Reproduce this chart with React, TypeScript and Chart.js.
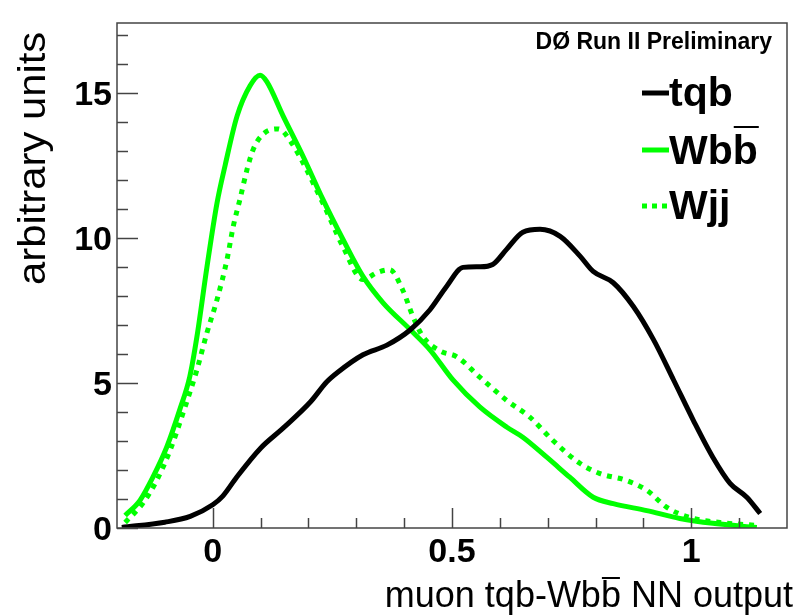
import { useEffect, useRef } from "react";
import { Chart, registerables } from "chart.js";
Chart.register(...registerables);

const tqbX = [-0.19, -0.1, -0.047, 0, 0.021, 0.05, 0.1, 0.147, 0.204, 0.238, 0.26, 0.314, 0.364, 0.413, 0.454, 0.489, 0.523, 0.558, 0.585, 0.614, 0.648, 0.684, 0.726, 0.768, 0.795, 0.837, 0.879, 0.921, 0.963, 1.004, 1.045, 1.081, 1.116, 1.144];
const tqbY = [0.02, 0.2, 0.4, 0.8, 1.1, 1.75, 2.75, 3.44, 4.34, 5.03, 5.35, 5.97, 6.3, 6.83, 7.52, 8.33, 8.98, 9.0, 9.08, 9.6, 10.19, 10.29, 10.05, 9.36, 8.84, 8.45, 7.63, 6.49, 5.1, 3.72, 2.44, 1.54, 1.06, 0.5];

const wbbX = [-0.183, -0.152, -0.125, -0.096, -0.069, -0.048, -0.033, -0.012, 0.009, 0.026, 0.051, 0.078, 0.099, 0.113, 0.147, 0.189, 0.23, 0.272, 0.314, 0.356, 0.413, 0.454, 0.502, 0.558, 0.614, 0.648, 0.698, 0.746, 0.795, 0.837, 0.907, 0.976, 1.045, 1.137];
const wbbY = [0.43, 0.95, 1.75, 2.79, 4.07, 5.21, 6.59, 9.0, 11.2, 12.5, 14.2, 15.24, 15.6, 15.38, 14.2, 12.8, 11.33, 9.95, 8.67, 7.76, 6.83, 6.14, 5.1, 4.17, 3.48, 3.13, 2.44, 1.75, 1.06, 0.84, 0.6, 0.33, 0.16, 0.02];

const wjjX = [-0.183, -0.146, -0.117, -0.089, -0.062, -0.033, -0.012, 0.009, 0.03, 0.043, 0.057, 0.072, 0.085, 0.106, 0.137, 0.162, 0.23, 0.272, 0.314, 0.343, 0.37, 0.397, 0.418, 0.439, 0.475, 0.51, 0.558, 0.614, 0.662, 0.71, 0.767, 0.808, 0.864, 0.907, 0.949, 0.997, 1.06, 1.137];
const wjjY = [0.19, 0.85, 1.64, 2.68, 3.96, 5.45, 6.73, 7.87, 9.26, 10.4, 11.33, 12.37, 13.06, 13.58, 13.75, 13.34, 11.2, 9.7, 8.56, 8.8, 8.9, 8.2, 7.3, 6.6, 6.1, 5.9, 5.2, 4.4, 3.83, 3.03, 2.23, 1.88, 1.64, 1.3, 0.71, 0.36, 0.19, 0.09];

const xMin = -0.2;
const xMax = 1.2;
const yMin = 0;
const yMax = 17.4;
const xTickValues = [0, 0.1, 0.2, 0.3, 0.4, 0.5, 0.6, 0.7, 0.8, 0.9, 1.0, 1.1];
const xTickLabels = ["0", "", "", "", "", "0.5", "", "", "", "", "1", ""];
const yTickValues = [0, 1, 2, 3, 4, 5, 6, 7, 8, 9, 10, 11, 12, 13, 14, 15, 16, 17];
const yTickLabels = ["0", "", "", "", "", "5", "", "", "", "", "10", "", "", "", "", "15", "", ""];
const xTitleStart = "muon tqb-Wb";
const xTitleBar = "b";
const xTitleEnd = " NN output";
const yTitle = "arbitrary units";
const headerText = "DØ Run II Preliminary";
const legendNames = ["tqb", "Wbb", "Wjj"];

const GREEN = "#00ff00";

const pts = (xs: number[], ys: number[]) => xs.map((x, i) => ({ x, y: ys[i] }));

const decorPlugin = {
  id: "decor",
  afterDatasetsDraw(chart: any) {
    const ctx = chart.ctx as CanvasRenderingContext2D;
    const { left, right, top, bottom } = chart.chartArea;
    const xs = chart.scales.x;
    const ys = chart.scales.y;
    ctx.save();
    // frame
    ctx.strokeStyle = "#444";
    ctx.lineWidth = 1.5;
    ctx.strokeRect(left, top, right - left, bottom - top);
    // ticks
    yTickValues.forEach((v, i) => {
      const py = Math.round(ys.getPixelForValue(v)) + 0.5;
      const len = yTickLabels[i] !== "" ? 21 : 11;
      ctx.beginPath();
      ctx.moveTo(left, py);
      ctx.lineTo(left + len, py);
      ctx.stroke();
    });
    xTickValues.forEach((v, i) => {
      const px = Math.round(xs.getPixelForValue(v)) + 0.5;
      const len = xTickLabels[i] !== "" ? 20 : 10;
      ctx.beginPath();
      ctx.moveTo(px, bottom);
      ctx.lineTo(px, bottom - len);
      ctx.stroke();
    });
    // tick labels
    ctx.fillStyle = "#000";
    ctx.font = "bold 34px 'Liberation Sans', Arial, sans-serif";
    ctx.textAlign = "right";
    ctx.textBaseline = "alphabetic";
    yTickValues.forEach((v, i) => {
      if (!yTickLabels[i]) return;
      const py = ys.getPixelForValue(v);
      ctx.fillText(yTickLabels[i], left - 5, py + 12);
    });
    ctx.textAlign = "center";
    xTickValues.forEach((v, i) => {
      if (!xTickLabels[i]) return;
      const px = xs.getPixelForValue(v);
      ctx.fillText(xTickLabels[i], px, 562);
    });
    // x title
    ctx.font = "36px 'Liberation Sans', Arial, sans-serif";
    ctx.textAlign = "left";
    const full = xTitleStart + xTitleBar + xTitleEnd;
    const wFull = ctx.measureText(full).width;
    const x0 = 793 - wFull;
    ctx.fillText(full, x0, 607);
    const bx0 = x0 + ctx.measureText(xTitleStart).width;
    const bw = ctx.measureText(xTitleBar).width;
    ctx.lineWidth = 2;
    ctx.strokeStyle = "#000";
    ctx.beginPath();
    ctx.moveTo(bx0 + 1, 578);
    ctx.lineTo(bx0 + bw - 1, 578);
    ctx.stroke();
    // y title
    ctx.save();
    ctx.translate(45, 285);
    ctx.rotate(-Math.PI / 2);
    ctx.scale(1.1, 1);
    ctx.textAlign = "left";
    ctx.font = "38px 'Liberation Sans', Arial, sans-serif";
    ctx.fillText(yTitle, 0, 0);
    ctx.restore();
    // header
    ctx.font = "bold 23px 'Liberation Sans', Arial, sans-serif";
    ctx.textAlign = "right";
    ctx.fillText(headerText, 772, 49);
    // legend
    const rows = [106, 164, 219];
    const lineYs = [93, 150, 206];
    const colors = ["#000", GREEN, GREEN];
    ctx.font = "bold 41px 'Liberation Sans', Arial, sans-serif";
    ctx.textAlign = "left";
    legendNames.forEach((name, i) => {
      ctx.strokeStyle = colors[i];
      ctx.lineWidth = 5;
      ctx.setLineDash(i === 2 ? [5, 5] : []);
      ctx.beginPath();
      ctx.moveTo(642, lineYs[i]);
      ctx.lineTo(669, lineYs[i]);
      ctx.stroke();
      ctx.setLineDash([]);
      ctx.fillStyle = "#000";
      ctx.fillText(name, 669, rows[i]);
    });
    // overline on the second b of Wbb in legend
    const wW = ctx.measureText("Wb").width;
    const wb = ctx.measureText("b").width;
    ctx.strokeStyle = "#000";
    ctx.lineWidth = 2;
    ctx.beginPath();
    ctx.moveTo(669 + wW + 1, 127);
    ctx.lineTo(669 + wW + wb + 1, 127);
    ctx.stroke();
    ctx.restore();
  },
};

export default function App() {
  const ref = useRef<HTMLCanvasElement | null>(null);
  useEffect(() => {
    document.body.style.margin = "0";
    const canvas = ref.current;
    if (!canvas) return;
    const chart = new Chart(canvas, {
      type: "line",
      data: {
        datasets: [
          {
            label: "tqb",
            data: pts(tqbX, tqbY),
            borderColor: "#000",
            borderWidth: 5,
            pointRadius: 0,
            cubicInterpolationMode: "monotone",
            fill: false,
          },
          {
            label: "Wbb",
            data: pts(wbbX, wbbY),
            borderColor: GREEN,
            borderWidth: 5,
            pointRadius: 0,
            cubicInterpolationMode: "monotone",
            fill: false,
          },
          {
            label: "Wjj",
            data: pts(wjjX, wjjY),
            borderColor: GREEN,
            borderWidth: 5,
            borderDash: [5, 6],
            pointRadius: 0,
            cubicInterpolationMode: "monotone",
            fill: false,
          },
        ],
      },
      options: {
        responsive: false,
        animation: false,
        layout: { padding: { left: 117, right: 10, top: 23, bottom: 88 } },
        plugins: { legend: { display: false }, tooltip: { enabled: false } },
        scales: {
          x: { type: "linear", min: xMin, max: xMax, display: false },
          y: { type: "linear", min: yMin, max: yMax, display: false },
        },
      },
      plugins: [decorPlugin],
    });
    return () => chart.destroy();
  }, []);
  return (
    <div style={{ width: 797, height: 616, background: "#fff" }}>
      <canvas ref={ref} width={797} height={616} style={{ display: "block" }} />
    </div>
  );
}
